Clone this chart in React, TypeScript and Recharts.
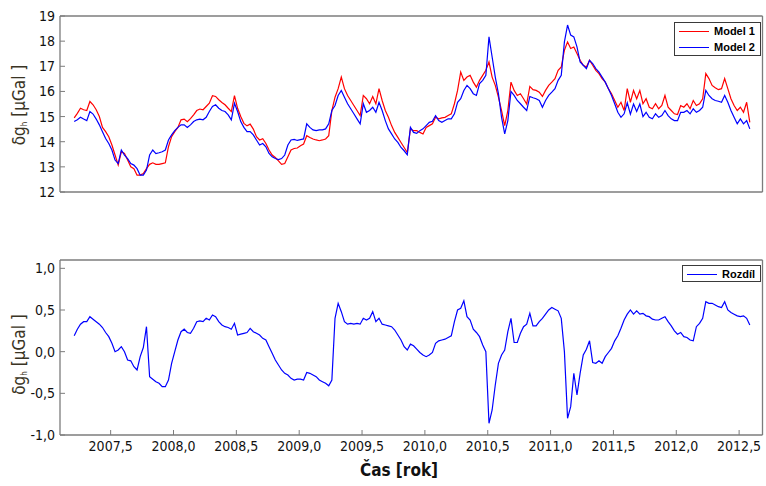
import { LineChart, Line, XAxis, YAxis } from "recharts";

// daily-ish samples, one every 0.025 year starting at 2007.21
const START_YEAR = 2007.21;
const STEP = 0.025;

const model1 = [
  14.95, 15.13, 15.33, 15.27, 15.24, 15.6, 15.47, 15.27, 15.0, 14.57,
  14.4, 14.2, 13.87, 13.47, 13.07, 13.6, 13.53, 13.27, 13.0, 12.93,
  12.67, 12.67, 12.73, 12.93, 13.1, 13.16, 13.1, 13.1, 13.13, 13.16,
  13.8, 14.2, 14.4, 14.57, 14.87, 14.9, 14.8, 14.92, 15.07, 15.24,
  15.3, 15.27, 15.4, 15.53, 15.83, 15.8, 15.67, 15.56, 15.47, 15.33,
  15.2, 15.83, 15.33, 15.0, 14.73, 14.63, 14.7, 14.5, 14.2, 14.07,
  14.12, 13.93, 13.67, 13.47, 13.37, 13.24, 13.1, 13.13, 13.4, 13.67,
  13.73, 13.75, 13.84, 13.91, 14.24, 14.17, 14.11, 14.07, 14.04, 14.07,
  14.11, 14.24, 15.24, 15.77, 16.11, 16.57, 16.11, 15.84, 15.64, 15.44,
  15.24, 15.04, 15.84, 15.71, 15.51, 15.8, 15.51, 16.11, 15.64, 15.24,
  14.97, 14.64, 14.37, 14.17, 13.97, 13.77, 13.57, 14.51, 14.44, 14.44,
  14.37, 14.31, 14.57, 14.64, 14.71, 14.97, 14.91, 14.95, 14.97, 15.04,
  15.11, 15.51, 16.04, 16.77, 16.44, 16.57, 16.64, 16.37, 16.17, 16.44,
  16.64, 16.84, 17.17, 16.57, 16.24, 15.77, 15.24, 14.64, 15.24, 16.37,
  16.04, 15.84, 15.91, 15.71, 15.5, 16.2, 16.07, 16.04, 15.97, 15.8,
  16.04, 16.24, 16.37, 16.51, 16.84, 16.97, 17.64, 17.97, 17.71, 17.77,
  17.51, 17.24, 17.04, 16.97, 17.24, 17.04, 16.84, 16.71, 16.51, 16.37,
  16.11, 15.91, 15.64, 15.37, 15.57, 15.24, 16.11, 15.57, 16.04, 15.71,
  16.04, 15.51, 15.71, 15.37, 15.31, 15.51, 15.31, 15.44, 15.84, 15.37,
  15.24, 15.11, 15.08, 15.44, 15.37, 15.51, 15.31, 15.64, 15.44, 15.51,
  15.71, 16.71, 16.51, 16.24, 16.15, 16.07, 16.11, 16.51, 16.11, 15.71,
  15.44, 15.24, 15.37, 15.17, 15.57, 14.77,
];

const model2 = [
  14.8, 14.87, 14.97, 14.9, 14.84, 15.2, 15.1, 14.9, 14.67, 14.4,
  14.13, 13.93, 13.67, 13.27, 13.13, 13.67, 13.47, 13.33, 13.13, 13.07,
  12.93, 12.67, 12.67, 12.87, 13.47, 13.67, 13.53, 13.56, 13.6, 13.67,
  14.07, 14.27, 14.44, 14.57, 14.67, 14.67, 14.57, 14.67, 14.8, 14.87,
  14.9, 14.87, 14.97, 15.2, 15.4, 15.47, 15.33, 15.24, 15.2, 15.07,
  14.87, 15.53, 15.2, 14.8, 14.57, 14.4, 14.4, 14.27, 14.07, 13.87,
  13.93, 13.8, 13.53, 13.4, 13.33, 13.29, 13.33, 13.47, 13.87, 14.07,
  14.09, 14.05, 14.08, 14.11, 14.71, 14.57, 14.47, 14.44, 14.47, 14.47,
  14.51, 14.71, 15.24, 15.44, 15.84, 16.04, 15.77, 15.51, 15.31, 15.11,
  14.91, 14.71, 15.51, 15.17, 15.24, 15.37, 15.17, 15.57, 15.24, 14.84,
  14.51, 14.31, 14.11, 13.97, 13.77, 13.64, 13.48, 14.57, 14.37, 14.33,
  14.44, 14.51, 14.64, 14.77, 14.81, 15.04, 14.84, 14.77, 14.84, 14.91,
  14.91, 15.11, 15.57, 15.71, 16.04, 16.24, 16.11, 15.91, 15.84, 16.31,
  16.44, 16.64, 18.17, 17.37, 16.57, 15.91, 14.97, 14.31, 14.84, 16.0,
  15.84, 15.64, 15.51, 15.37, 15.24, 15.8, 15.75, 15.71, 15.64, 15.37,
  15.64, 15.84, 15.97, 16.11, 16.44, 16.64, 17.97, 18.64, 18.24, 18.17,
  17.77, 17.17, 17.04, 16.91, 17.24, 17.11, 16.91, 16.77, 16.57, 16.37,
  16.11, 15.84, 15.51, 15.17, 14.97, 15.11, 15.55, 15.1, 15.5, 15.2,
  15.5, 15.0, 15.17, 14.97, 14.91, 15.11, 14.97, 15.04, 15.24, 15.04,
  14.91, 14.84, 14.84, 15.17, 15.17, 15.24, 15.11, 15.31, 15.17, 15.24,
  15.37, 16.04, 15.84, 15.71, 15.64, 15.61, 15.57, 15.84, 15.57, 15.24,
  14.97, 14.71, 14.91, 14.71, 14.84, 14.51,
];

const rozdil = [
  0.19, 0.27, 0.33, 0.36, 0.36, 0.42, 0.39, 0.36, 0.33, 0.29,
  0.23, 0.18, 0.1, 0.0, 0.02, 0.06, 0.0, -0.1, -0.11, -0.18,
  -0.22, -0.06, 0.05, 0.3, -0.3, -0.33, -0.36, -0.38, -0.42, -0.42,
  -0.34, -0.14, 0.0, 0.14, 0.24, 0.27, 0.23, 0.22, 0.28, 0.36,
  0.37, 0.36, 0.4, 0.38, 0.44, 0.42, 0.36, 0.32, 0.3, 0.29,
  0.27, 0.34, 0.2, 0.21, 0.22, 0.23, 0.28, 0.24, 0.22, 0.2,
  0.16, 0.14, 0.06, -0.02, -0.1, -0.16, -0.22, -0.26, -0.28, -0.32,
  -0.34, -0.33, -0.33, -0.34, -0.25, -0.26, -0.28, -0.3, -0.34, -0.36,
  -0.38, -0.41, -0.34, 0.4, 0.58, 0.48, 0.36, 0.33, 0.34, 0.33,
  0.34, 0.33, 0.4, 0.38, 0.4, 0.48, 0.36, 0.4, 0.33, 0.32,
  0.31, 0.3, 0.26, 0.2, 0.14, 0.06, 0.02, 0.09, 0.07, 0.03,
  -0.01, -0.04, -0.06, -0.04, -0.01, 0.1, 0.13, 0.14, 0.15, 0.17,
  0.19, 0.36, 0.5, 0.52, 0.61, 0.42, 0.38, 0.27, 0.23, 0.18,
  0.08, 0.0, -0.86, -0.7, -0.4, -0.14, -0.04, 0.02, 0.24, 0.4,
  0.11, 0.11, 0.22, 0.3, 0.33, 0.46, 0.31, 0.31, 0.36, 0.4,
  0.45, 0.5, 0.53, 0.51, 0.49, 0.4, 0.0, -0.8, -0.66, -0.26,
  -0.52, -0.26, -0.04, 0.03, 0.13, -0.13, -0.14, -0.11, -0.14, -0.06,
  -0.01, 0.04, 0.13, 0.19, 0.28, 0.38, 0.45, 0.5, 0.45, 0.49,
  0.45, 0.46, 0.43, 0.42, 0.39, 0.38, 0.38, 0.4, 0.42, 0.36,
  0.31, 0.25, 0.21, 0.23, 0.18, 0.17, 0.14, 0.13, 0.3, 0.34,
  0.4, 0.6, 0.58, 0.58, 0.56, 0.54, 0.53, 0.6, 0.5, 0.47,
  0.45, 0.43, 0.42, 0.43, 0.4, 0.32,
];

const yearTicks = [2007.5, 2008, 2008.5, 2009, 2009.5, 2010, 2010.5, 2011, 2011.5, 2012, 2012.5];
const gravTicks = [12, 13, 14, 15, 16, 17, 18, 19];
const diffTicks = [-1, -0.5, 0, 0.5, 1];

const yearDomain: [number, number] = [2007.097, 2012.686];

const yearAt = (i: number) => +(START_YEAR + i * STEP).toFixed(3);

const modelData = model1.map((v, i) => ({ year: yearAt(i), model1: v, model2: model2[i] }));
const diffData = rozdil.map((v, i) => ({ year: yearAt(i), rozdil: v }));

const comma = (v: number) => v.toFixed(1).replace(".", ",");

const FRAME = "#7c7c7c";
const FONT = "'DejaVu Sans Condensed', 'DejaVu Sans', sans-serif";
const TICK_FONT = { fontSize: 14, fill: "#111", fontFamily: FONT };

const AxisTitle = ({ viewBox, shift = 0 }: any) => {
  const cx = viewBox.x + 19;
  const cy = viewBox.y + viewBox.height / 2 + shift;
  return (
    <text
      x={cx}
      y={cy}
      transform={`rotate(-90 ${cx} ${cy})`}
      textAnchor="middle"
      dominantBaseline="central"
      fontSize={17}
      fill="#3a3424"
      fontFamily={FONT}
    >
      δg
      <tspan fontSize={8} dy={5}>h</tspan>
      <tspan dy={-5}> [μGal ]</tspan>
    </text>
  );
};

// box around the plot: ticks point inward on all four sides
const frame = (
  yDomain: [number, number],
  yTicks: number[],
  showYears: boolean,
  titleShift: number
) => [
  <XAxis
    key="xb"
    type="number"
    dataKey="year"
    domain={yearDomain}
    allowDataOverflow
    ticks={yearTicks}
    tickSize={-5}
    tickMargin={11}
    tick={showYears ? TICK_FONT : false}
    tickFormatter={comma}
    height={showYears ? 30 : 1}
    axisLine={{ stroke: FRAME, strokeWidth: 1.3 }}
    tickLine={{ stroke: FRAME }}
    interval={0}
    label={
      showYears
        ? {
            content: ({ viewBox }: any) => (
              <text
                x={viewBox.x + 339}
                y={viewBox.y + 35}
                textAnchor="middle"
                dominantBaseline="central"
                fontSize={17}
                fontWeight="bold"
                fill="#111"
                fontFamily={FONT}
              >
                Čas [rok]
              </text>
            ),
          }
        : undefined
    }
  />,
  <XAxis
    key="xt"
    xAxisId="top"
    orientation="top"
    type="number"
    dataKey="year"
    domain={yearDomain}
    allowDataOverflow
    ticks={yearTicks}
    tickSize={-5}
    tick={false}
    height={1}
    axisLine={{ stroke: FRAME, strokeWidth: 1.3 }}
    tickLine={{ stroke: FRAME }}
    interval={0}
  />,
  <YAxis
    key="yl"
    type="number"
    domain={yDomain}
    allowDataOverflow
    ticks={yTicks}
    tickSize={-5}
    tickMargin={10}
    tick={TICK_FONT}
    tickFormatter={(v: number) => (yTicks.length > 5 ? String(v) : comma(v))}
    width={60}
    axisLine={{ stroke: FRAME, strokeWidth: 1.3 }}
    tickLine={{ stroke: FRAME }}
    interval={0}
    label={{ content: (p: any) => <AxisTitle {...p} shift={titleShift} /> }}
  />,
  <YAxis
    key="yr"
    yAxisId="right"
    orientation="right"
    type="number"
    domain={yDomain}
    allowDataOverflow
    ticks={yTicks}
    tickSize={-5}
    tick={false}
    width={1}
    axisLine={{ stroke: FRAME, strokeWidth: 1.3 }}
    tickLine={{ stroke: FRAME }}
    interval={0}
  />,
];

const legendBox = {
  position: "absolute" as const,
  background: "#fff",
  border: "1px solid #3a3a3a",
  fontFamily: "'Liberation Sans', Arial, sans-serif",
  fontWeight: "bold" as const,
  fontSize: 11,
  color: "#000",
  boxSizing: "border-box" as const,
};

const LegendRow = ({ color, name }: { color: string; name: string }) => (
  <div style={{ display: "flex", alignItems: "center", height: 16 }}>
    <div style={{ width: 30, height: 1, background: color, marginLeft: 4, marginRight: 5 }} />
    <span>{name}</span>
  </div>
);

export default function App() {
  return (
    <div style={{ position: "absolute", left: 0, top: 0, width: 766, height: 486, background: "#fff" }}>
      <div style={{ position: "absolute", left: 0, top: 0 }}>
        <LineChart width={766} height={200} data={modelData} margin={{ top: 15, right: 2.5, bottom: 7, left: 0 }}>
          {frame([12, 19], gravTicks, false, 1)}
          <Line dataKey="model1" stroke="#ff0000" strokeWidth={1.2} dot={false} isAnimationActive={false} />
          <Line dataKey="model2" stroke="#0000ff" strokeWidth={1.2} dot={false} isAnimationActive={false} />
        </LineChart>
      </div>
      <div style={{ ...legendBox, left: 674, top: 22, width: 87, height: 34 }}>
        <LegendRow color="#ff0000" name="Model 1" />
        <LegendRow color="#0000ff" name="Model 2" />
      </div>

      <div style={{ position: "absolute", left: 0, top: 240 }}>
        <LineChart width={766} height={246} data={diffData} margin={{ top: 19, right: 2.5, bottom: 21, left: 0 }}>
          {frame([-1, 1.1], diffTicks, true, 7)}
          <Line dataKey="rozdil" stroke="#0000ff" strokeWidth={1.2} dot={false} isAnimationActive={false} />
        </LineChart>
      </div>
      <div style={{ ...legendBox, left: 682, top: 265, width: 79, height: 17 }}>
        <LegendRow color="#0000ff" name="Rozdíl" />
      </div>
    </div>
  );
}
